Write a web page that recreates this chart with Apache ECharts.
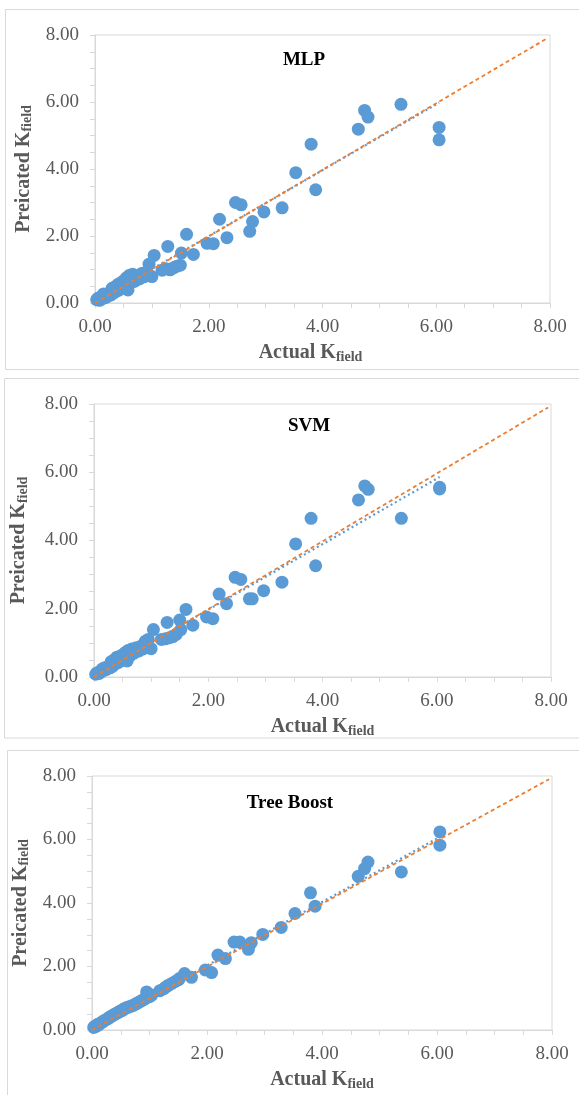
<!DOCTYPE html>
<html>
<head>
<meta charset="utf-8">
<script src="https://cdn.jsdelivr.net/npm/echarts@6/dist/echarts.min.js"></script>
<style>
  html, body { margin: 0; padding: 0; background: #fff; }
  #chart { width: 579px; height: 1095px; }
</style>
</head>
<body>
<div id="chart"></div>
<script>
// actual K field (same samples in all three panels)
const actual = [
  0.03, 0.05, 0.08, 0.10, 0.12, 0.15, 0.18, 0.20, 0.22, 0.25, 0.28, 0.30, 0.33, 0.35, 0.38, 0.40,
  0.42, 0.45, 0.48, 0.50, 0.53, 0.55, 0.58, 0.60, 0.63, 0.66, 0.70, 0.74, 0.78, 0.82, 0.86, 0.90,
  0.92, 0.95, 1.00, 1.04, 1.18, 1.25, 1.28, 1.32, 1.38, 1.44, 1.50, 1.52,
  1.61, 1.73, 1.97, 2.08, 2.19, 2.32, 2.47, 2.57, 2.72, 2.77, 2.97, 3.29, 3.53, 3.80, 3.88,
  4.63, 4.74, 4.80, 5.38, 6.05, 6.05
];
// predicted K field per model
const mlpPred = [
  0.10, 0.14, 0.08, 0.18, 0.12, 0.27, 0.16, 0.25, 0.20, 0.30, 0.24, 0.44, 0.30, 0.48, 0.36, 0.55,
  0.38, 0.60, 0.45, 0.66, 0.50, 0.75, 0.39, 0.82, 0.60, 0.86, 0.65, 0.80, 0.72, 0.88, 0.78, 0.92,
  0.85, 1.16, 0.79, 1.42, 0.98, 1.02, 1.69, 0.99, 1.05, 1.10, 1.13, 1.49,
  2.05, 1.45, 1.78, 1.77, 2.50, 1.95, 3.00, 2.93, 2.14, 2.43, 2.72, 2.84, 3.89, 4.74, 3.38,
  5.19, 5.75, 5.55, 5.93, 5.24, 4.87
];
const svmPred = [
  0.08, 0.12, 0.10, 0.16, 0.14, 0.24, 0.20, 0.28, 0.22, 0.30, 0.27, 0.45, 0.32, 0.50, 0.40, 0.58,
  0.42, 0.60, 0.48, 0.65, 0.55, 0.72, 0.47, 0.78, 0.62, 0.82, 0.70, 0.86, 0.76, 0.90, 0.82, 1.05,
  0.98, 1.10, 0.83, 1.39, 1.10, 1.12, 1.60, 1.15, 1.18, 1.25, 1.67, 1.39,
  1.98, 1.52, 1.76, 1.71, 2.43, 2.15, 2.92, 2.86, 2.29, 2.29, 2.53, 2.78, 3.90, 4.65, 3.26,
  5.19, 5.60, 5.50, 4.65, 5.56, 5.51
];
const treePred = [
  0.08, 0.12, 0.12, 0.18, 0.17, 0.22, 0.25, 0.28, 0.30, 0.33, 0.36, 0.40, 0.42, 0.45, 0.48, 0.50,
  0.52, 0.55, 0.58, 0.60, 0.62, 0.66, 0.68, 0.70, 0.72, 0.74, 0.76, 0.80, 0.84, 0.88, 0.92, 0.96,
  0.98, 1.20, 1.05, 1.10, 1.24, 1.30, 1.35, 1.40, 1.46, 1.52, 1.58, 1.62,
  1.78, 1.66, 1.89, 1.81, 2.36, 2.25, 2.77, 2.77, 2.54, 2.75, 3.01, 3.23, 3.67, 4.32, 3.90,
  4.84, 5.08, 5.29, 4.98, 6.24, 5.82
];
const panelTitles = ['MLP', 'SVM', 'Tree Boost'];
// 1:1 reference line and linear trend lines (end points)
const oneToOneX = [0, 7.95];
const oneToOneY = [0, 7.9];
const trendX = [0.03, 6.05];
const mlpTrendY = [0.06, 5.98];
const svmTrendY = [0.08, 5.86];
const treeTrendY = [0.06, 6.08];

const predSets = [mlpPred, svmPred, treePred];
const trendSets = [mlpTrendY, svmTrendY, treeTrendY];

// layout of the three stacked panels
const panels = [
  { box: [5.5, 9.5, 369.5], grid: [95, 35, 455, 268], title: [304, 60], yGap: 60, xPad: 24 },
  { box: [4.5, 378.5, 738], grid: [94, 404, 457, 273], title: [309, 426], yGap: 64, xPad: 0 },
  { box: [7.5, 750.5, 1200], grid: [92, 776, 460, 254], title: [290, 803], yGap: 60, xPad: 0 }
];

const FONT = '"Liberation Serif", "Times New Roman", serif';
const GRAY = '#d9d9d9';
const TXT = '#595959';
const BLUE = '#5b9bd5';
const ORANGE = '#ed7d31';

const pairs = (xs, ys) => xs.map((x, i) => [x, ys[i]]);

function axisName(label, pad) {
  return {
    name: '{a|' + label + ' K}{b|field}',
    nameTextStyle: {
      padding: [0, pad, 0, 0],
      rich: {
        a: { fontFamily: FONT, fontSize: 20, fontWeight: 'bold', color: TXT, lineHeight: 22 },
        b: { fontFamily: FONT, fontSize: 14, fontWeight: 'bold', color: TXT, lineHeight: 10, verticalAlign: 'bottom' }
      }
    }
  };
}

function baseAxis(i) {
  return {
    type: 'value', gridIndex: i, min: 0, max: 8, interval: 2,
    nameLocation: 'middle',
    axisLine: { show: true, lineStyle: { color: GRAY, width: 1 } },
    axisTick: { show: true, inside: false, length: 5, lineStyle: { color: GRAY } },
    minorTick: { show: true, splitNumber: 4, length: 5, lineStyle: { color: GRAY } },
    splitLine: { show: false },
    axisLabel: { color: TXT, fontFamily: FONT, fontSize: 19, formatter: v => v.toFixed(2) }
  };
}

const grids = [], xAxes = [], yAxes = [], series = [], graphics = [];
panels.forEach((p, i) => {
  grids.push({
    left: p.grid[0], top: p.grid[1], width: p.grid[2], height: p.grid[3],
    show: true, borderColor: GRAY, borderWidth: 1, backgroundColor: 'transparent'
  });
  const xa = baseAxis(i);
  Object.assign(xa, axisName('Actual', p.xPad), { nameGap: 39 });
  xa.axisLabel.margin = 15;
  xAxes.push(xa);
  const ya = baseAxis(i);
  Object.assign(ya, axisName('Preicated', 0), { nameGap: p.yGap, nameRotate: 90 });
  ya.axisLabel.margin = 16;
  yAxes.push(ya);

  series.push({
    type: 'scatter', xAxisIndex: i, yAxisIndex: i,
    data: pairs(actual, predSets[i]),
    symbol: 'circle', symbolSize: 13,
    itemStyle: { color: BLUE, opacity: 1 },
    z: 2
  });
  series.push({
    type: 'line', xAxisIndex: i, yAxisIndex: i,
    data: pairs(trendX, trendSets[i]),
    symbol: 'none',
    lineStyle: { color: BLUE, width: 2.2, type: [2, 3] },
    z: 3
  });
  series.push({
    type: 'line', xAxisIndex: i, yAxisIndex: i,
    data: pairs(oneToOneX, oneToOneY),
    symbol: 'none',
    lineStyle: { color: ORANGE, width: 1.8, type: [4, 3] },
    z: 4
  });

  // panel frame (right edge runs off the page)
  graphics.push({
    type: 'rect', silent: true, z: -1,
    shape: { x: p.box[0], y: p.box[1], width: 700, height: p.box[2] - p.box[1] },
    style: { fill: 'none', stroke: GRAY, lineWidth: 1 }
  });
  graphics.push({
    type: 'text', silent: true,
    x: p.title[0], y: p.title[1],
    style: {
      text: panelTitles[i], fill: '#000', font: 'bold 19px ' + FONT,
      textAlign: 'center', textVerticalAlign: 'middle'
    }
  });
});

const chart = echarts.init(document.getElementById('chart'), null, { renderer: 'canvas' });
chart.setOption({
  animation: false,
  backgroundColor: '#fff',
  grid: grids,
  xAxis: xAxes,
  yAxis: yAxes,
  series: series,
  graphic: graphics
});
</script>
</body>
</html>
